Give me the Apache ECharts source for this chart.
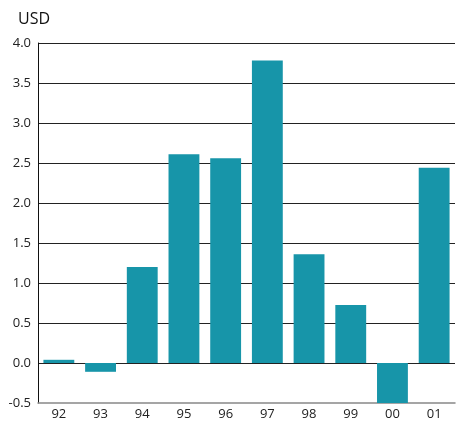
<!DOCTYPE html>
<html>
<head>
<meta charset="utf-8">
<script src="https://cdn.jsdelivr.net/npm/echarts@6/dist/echarts.min.js"></script>
<style>
  html, body { margin: 0; padding: 0; background: #fff; }
  #chart { width: 458px; height: 422px; }
</style>
</head>
<body>
<div id="chart"></div>
<script>
// Yearly values in USD, 1992–2001
const years = ['92', '93', '94', '95', '96', '97', '98', '99', '00', '01'];
const values = [0.04, -0.11, 1.20, 2.61, 2.56, 3.78, 1.36, 0.725, -0.50, 2.44];
const yTicks = { min: -0.5, max: 4.0, step: 0.5 };

const chart = echarts.init(document.getElementById('chart'), null, { renderer: 'canvas' });
const font = '"Open Sans", "Noto Sans", sans-serif';

chart.setOption({
  animation: false,
  textStyle: { fontFamily: font },
  title: {
    text: 'USD',
    left: 13,
    top: 6,
    textStyle: { fontFamily: font, fontSize: 16, fontWeight: 'normal', color: '#111' }
  },
  grid: { left: 38, right: 3, top: 43, bottom: 19, containLabel: false },
  xAxis: {
    type: 'category',
    data: years,
    axisLine: { onZero: false, lineStyle: { color: '#888', width: 1.5 } },
    axisTick: { show: false },
    axisLabel: { color: '#222', fontSize: 13, margin: 5, fontFamily: font }
  },
  yAxis: {
    type: 'value',
    min: yTicks.min,
    max: yTicks.max,
    interval: yTicks.step,
    axisLine: { show: true, lineStyle: { color: '#111', width: 1 } },
    axisTick: { show: false },
    axisLabel: {
      color: '#222', fontSize: 13, margin: 7, fontFamily: font,
      formatter: v => v.toFixed(1)
    },
    splitLine: { show: true, showMinLine: false, lineStyle: { color: '#222', width: 1 } }
  },
  series: [{
    type: 'bar',
    data: values,
    barCategoryGap: '26%',
    itemStyle: { color: '#1795a9' },
    z: 1
  }]
});
</script>
</body>
</html>
